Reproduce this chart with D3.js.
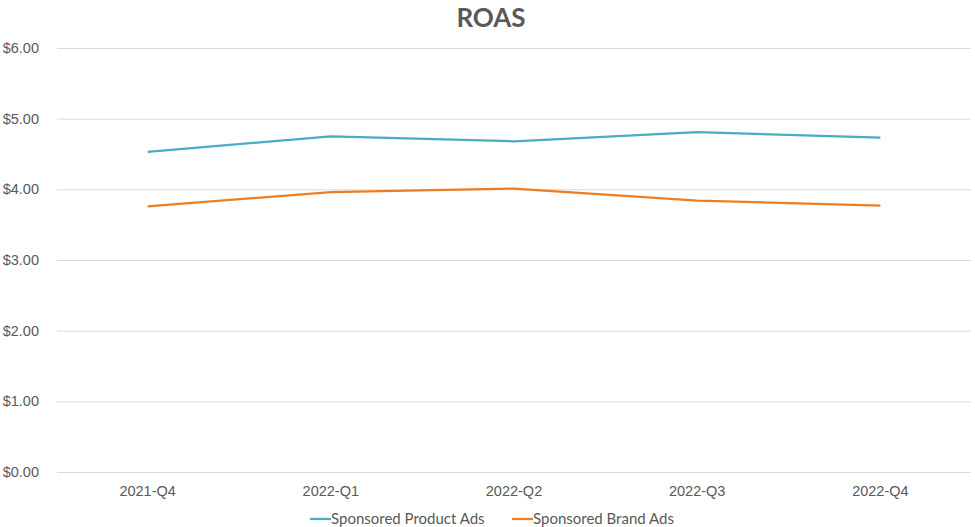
<!DOCTYPE html>
<html>
<head>
<meta charset="utf-8">
<script src="https://cdn.jsdelivr.net/npm/d3@7"></script>
<style>
  html, body { margin: 0; padding: 0; background: #fff; }
  svg { display: block; font-family: Lato, "Open Sans", sans-serif; }
</style>
</head>
<body>
<svg id="chart" width="975" height="527"></svg>
<script>
// Quarterly ROAS by ad type
const quarters = ["2021-Q4", "2022-Q1", "2022-Q2", "2022-Q3", "2022-Q4"];
const productAds = [4.53, 4.75, 4.68, 4.81, 4.73];
const brandAds = [3.76, 3.96, 4.01, 3.84, 3.77];
const seriesNames = ["Sponsored Product Ads", "Sponsored Brand Ads"];
const seriesColors = ["#4BACC6", "#ED7D1F"];
const yTicks = [0, 1, 2, 3, 4, 5, 6];

const svg = d3.select("#chart");
const margin = { left: 56, right: 3, top: 48, bottom: 55 };
const width = 975, height = 527;

const x = d3.scaleBand().domain(quarters).range([margin.left, width - margin.right]);
const y = d3.scaleLinear().domain([0, 6]).range([height - margin.bottom, margin.top]);

// Title
svg.append("text")
  .attr("x", 491).attr("y", 27)
  .attr("text-anchor", "middle")
  .attr("font-size", 26).attr("font-weight", "bold")
  .attr("fill", "#595959")
  .text("ROAS");

// Horizontal gridlines and y labels
const yAxis = d3.axisLeft(y).tickValues(yTicks)
  .tickSize(-(width - margin.right - margin.left - 2))
  .tickPadding(18)
  .tickFormat(d => "$" + d3.format(".2f")(d));
const gy = svg.append("g").attr("transform", `translate(${margin.left + 1},0)`).call(yAxis);
gy.select(".domain").remove();
gy.selectAll(".tick line").attr("stroke", "#d9d9d9").attr("stroke-width", 1);
gy.selectAll(".tick text").attr("fill", "#595959").attr("font-size", 14.5);

// Category labels
const xAxis = d3.axisBottom(x).tickSize(0).tickPadding(14);
const gx = svg.append("g").attr("transform", `translate(0,${y(0)})`).call(xAxis);
gx.select(".domain").remove();
gx.selectAll(".tick text").attr("fill", "#595959").attr("font-size", 14.5);

// Lines
const line = d3.line()
  .x((d, i) => x(quarters[i]) + x.bandwidth() / 2)
  .y(d => y(d));
[productAds, brandAds].forEach((vals, i) => {
  svg.append("path")
    .datum(vals)
    .attr("fill", "none")
    .attr("stroke", seriesColors[i])
    .attr("stroke-width", 2.25)
    .attr("stroke-linejoin", "round")
    .attr("d", line);
});

// Legend
const legendX = [310, 512];
const legend = svg.append("g").attr("transform", "translate(0,519)");
seriesNames.forEach((name, i) => {
  const g = legend.append("g").attr("transform", `translate(${legendX[i]},0)`);
  g.append("line").attr("x1", 0).attr("x2", 21).attr("y1", 0).attr("y2", 0)
    .attr("stroke", seriesColors[i]).attr("stroke-width", 2.25);
  g.append("text").attr("x", 21).attr("y", 0).attr("dy", "0.35em")
    .attr("font-size", 15).attr("fill", "#595959").text(name);
});
</script>
</body>
</html>
